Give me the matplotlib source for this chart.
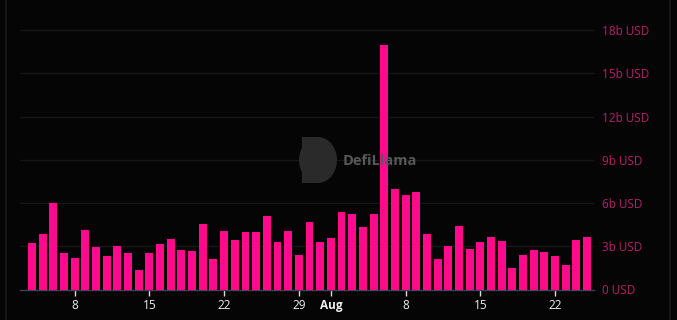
import numpy as np
import pandas as pd
import matplotlib
matplotlib.use("Agg")
import matplotlib.pyplot as plt
import matplotlib.dates as mdates
from matplotlib.patches import Ellipse, Rectangle
from matplotlib.lines import Line2D

# daily volume, billions of USD, 4 Jul -> 25 Aug
dates = pd.date_range("2023-07-04", "2023-08-25", freq="D")
volume = [3.26, 3.84, 5.98, 2.51, 2.21, 4.12, 2.93, 2.30, 3.00, 2.51,
          1.35, 2.51, 3.14, 3.49, 2.77, 2.67, 4.53, 2.14, 4.05, 3.42,
          4.00, 4.02, 5.07, 3.33, 4.07, 2.37, 4.67, 3.33,
          3.60, 5.40, 5.26, 4.33, 5.26, 17.0, 6.98, 6.53, 6.77, 3.86,
          2.12, 3.02, 4.40, 2.81, 3.30, 3.63, 3.35, 1.51, 2.42, 2.72,
          2.58, 2.33, 1.67, 3.44, 3.67]
y_ticks = [0, 3, 6, 9, 12, 15, 18]
y_labels = ["0 USD", "3b USD", "6b USD", "9b USD", "12b USD", "15b USD", "18b USD"]
x_ticks = pd.to_datetime(["2023-07-08", "2023-07-15", "2023-07-22", "2023-07-29",
                          "2023-08-01", "2023-08-08", "2023-08-15", "2023-08-22"])
x_labels = ["8", "15", "22", "29", "Aug", "8", "15", "22"]

bg = "#050505"
pink = "#ff0a8c"

plt.rcParams["font.family"] = ["Open Sans", "DejaVu Sans"]

fig = plt.figure(figsize=(6.77, 3.2), dpi=100, facecolor=bg)
ax = fig.add_axes([20 / 677, 30.5 / 320, 574 / 677, 277.5 / 320])
ax.set_facecolor(bg)

xd = mdates.date2num(dates)
ax.bar(xd, volume, width=0.74, color=pink, zorder=3)

ax.set_xlim(xd[0] - 1.12, xd[-1] + 0.65)
ax.set_ylim(0, 19.27)

ax.yaxis.tick_right()
ax.set_yticks(y_ticks)
ax.set_yticklabels(y_labels)
ax.tick_params(axis="y", length=0, pad=6, labelsize=8.5, labelcolor="#b8206c")
for v in y_ticks[1:]:
    ax.axhline(v, color="#171717", lw=1, zorder=1)

ax.set_xticks(mdates.date2num(x_ticks))
ax.set_xticklabels(x_labels)
ax.tick_params(axis="x", length=4, width=1, color="#dddddd", pad=3,
               labelsize=8.5, labelcolor="#f0f0f0")
for lab in ax.get_xticklabels():
    if lab.get_text() == "Aug":
        lab.set_fontweight("bold")

for s in ["top", "right", "left"]:
    ax.spines[s].set_visible(False)
ax.spines["bottom"].set_color("#3c4456")
ax.spines["bottom"].set_linewidth(1)

# watermark (D-shaped logo + name)
fig.patches.append(Ellipse((318 / 677, 1 - 160 / 320), 38 / 677, 46 / 320,
                           transform=fig.transFigure, facecolor="#2a2a2a",
                           edgecolor="none", zorder=0))
fig.patches.append(Rectangle((302 / 677, 1 - 183 / 320), 16 / 677, 46 / 320,
                             transform=fig.transFigure, facecolor="#2a2a2a",
                             edgecolor="none", zorder=0))
fig.text(343 / 677, 1 - 161 / 320, "DefiLlama", color="#585858", fontsize=10.5,
         fontweight="bold", va="center", ha="left", zorder=0)

# panel borders
fig.add_artist(Line2D([6 / 677, 6 / 677], [0, 1], color="#141414", lw=1.5))
fig.add_artist(Line2D([670 / 677, 670 / 677], [0, 1], color="#141414", lw=1.5))

fig.savefig("out.png", dpi=100, facecolor=bg)
